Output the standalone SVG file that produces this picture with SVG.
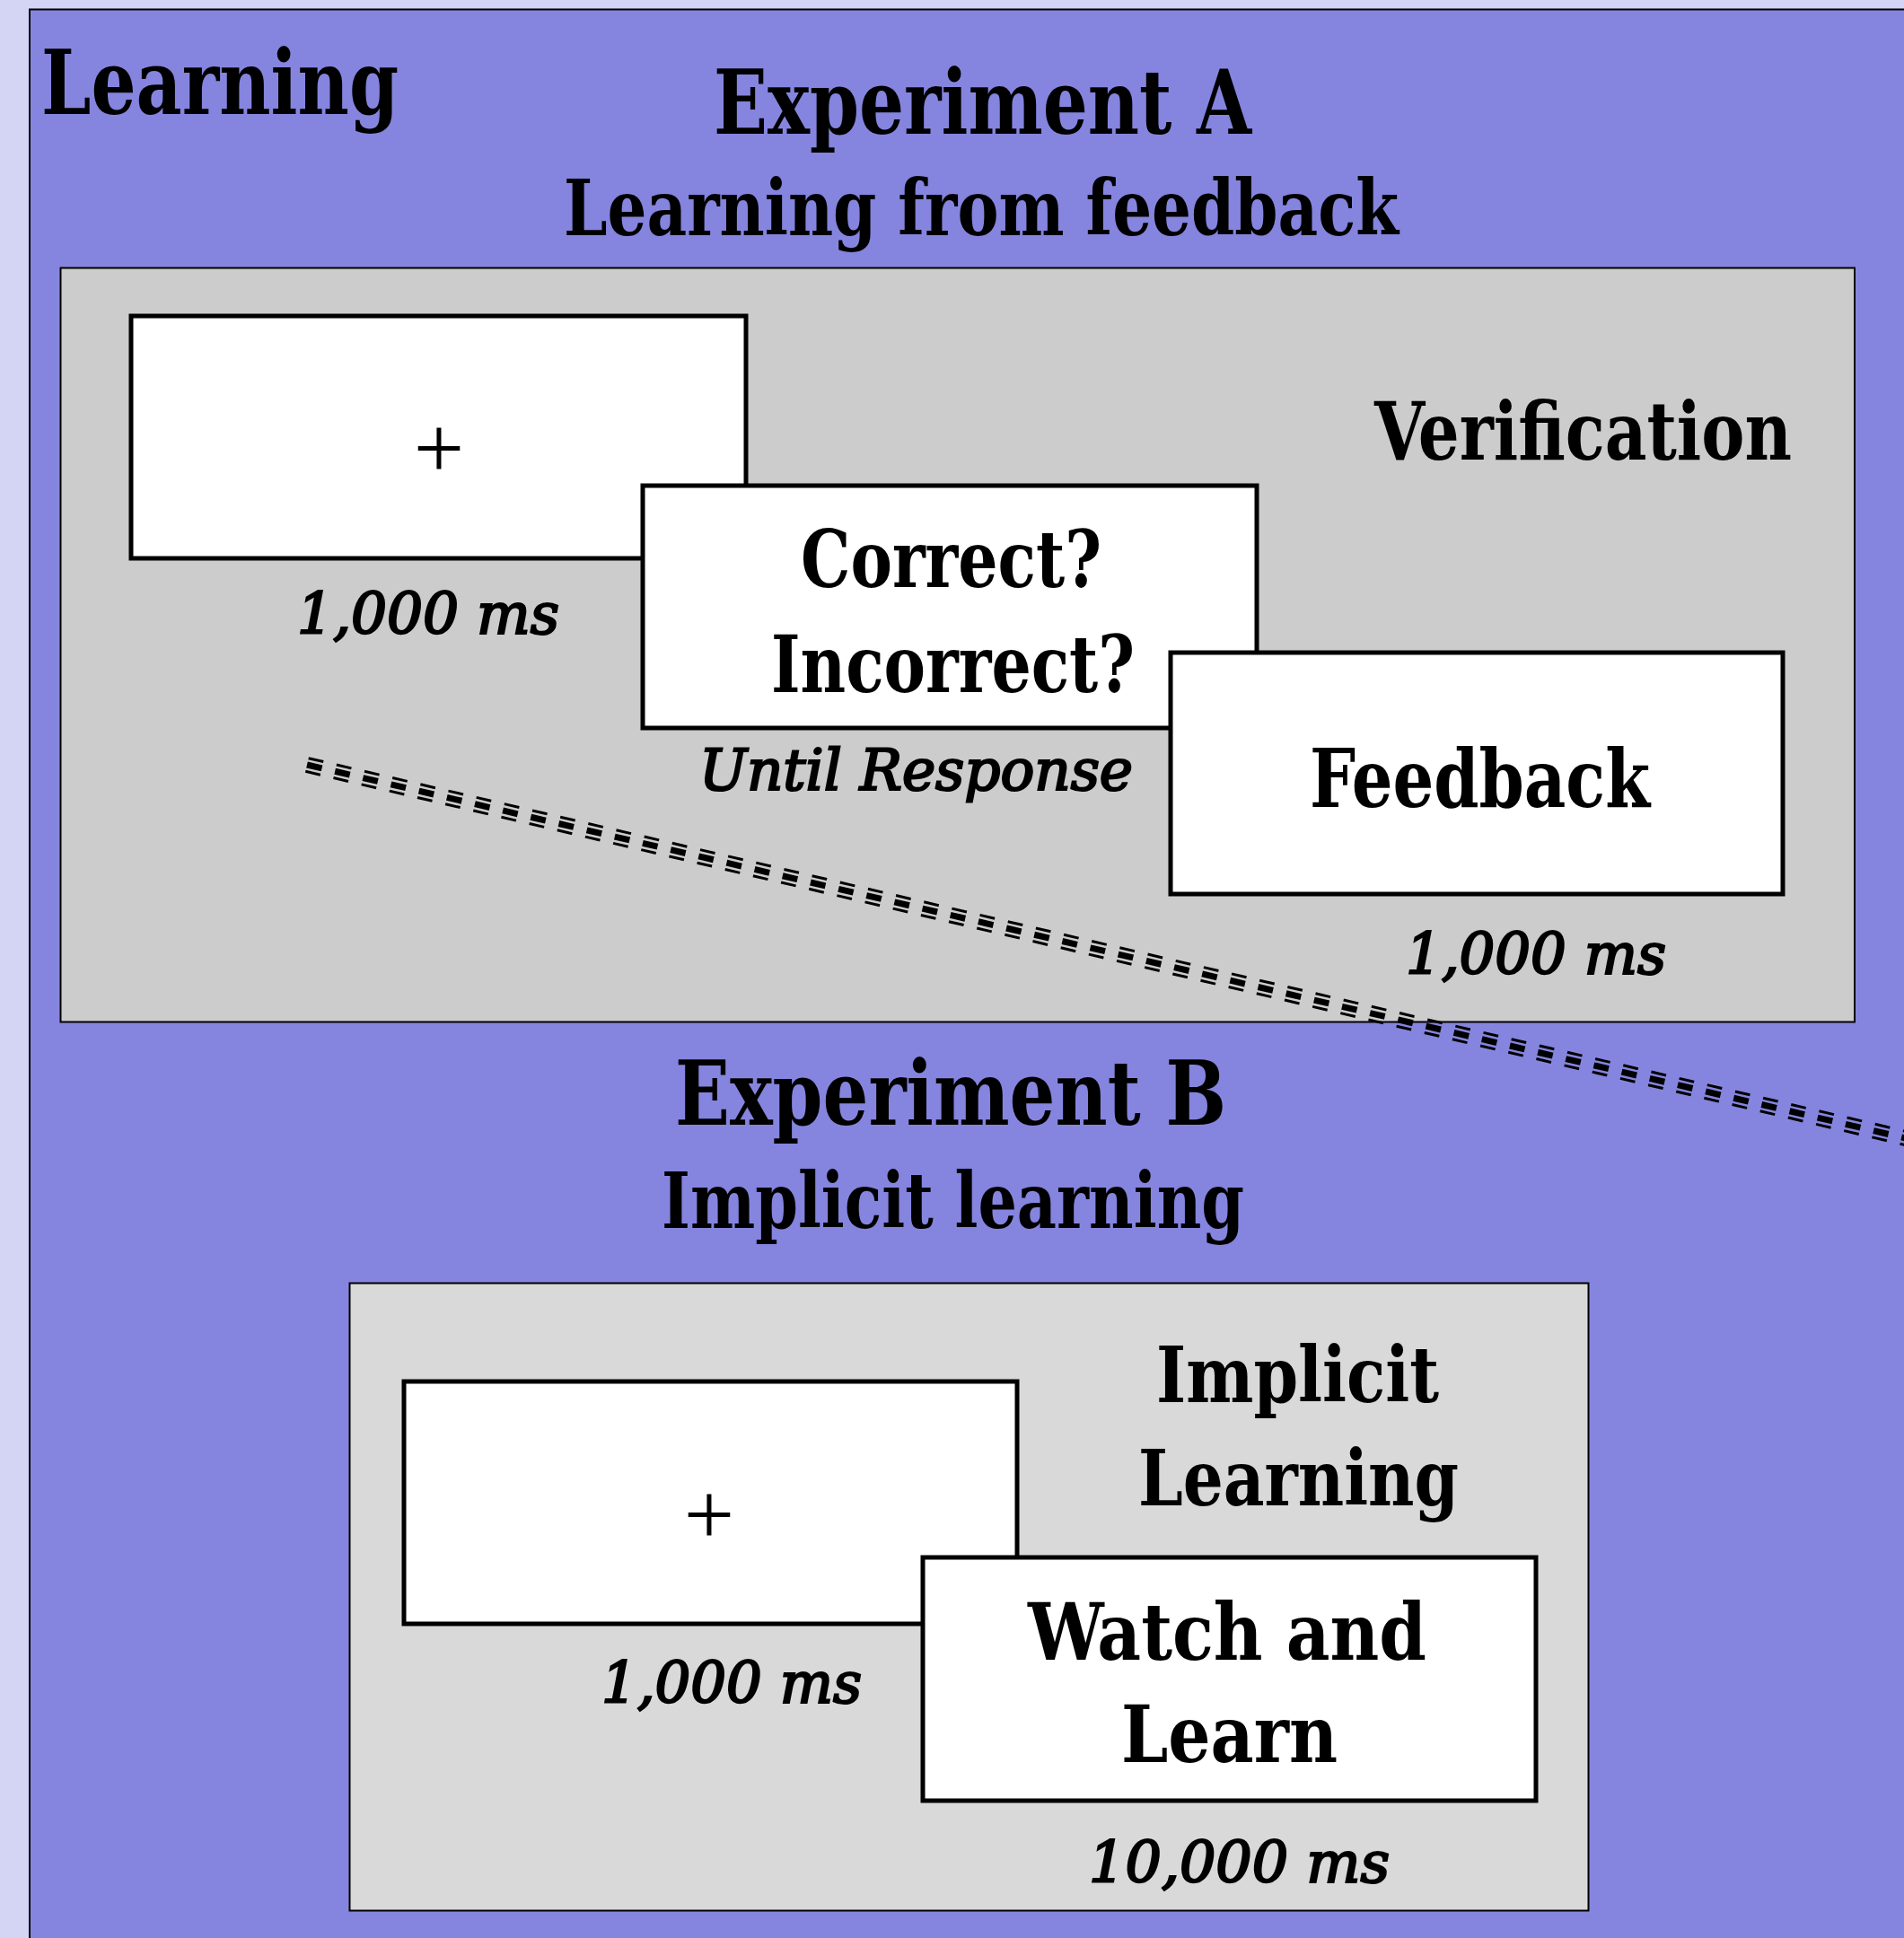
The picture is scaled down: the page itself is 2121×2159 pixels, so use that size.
<svg xmlns="http://www.w3.org/2000/svg" width="2121" height="2159" viewBox="0 0 2121 2159">
<style>
.t{font-family:"DejaVu Serif","Liberation Serif",serif;font-weight:bold;font-stretch:condensed;fill:#000}
.i{font-family:"DejaVu Serif","Liberation Serif",serif;font-style:italic;font-weight:normal;font-stretch:condensed;fill:#000;stroke:#000;stroke-width:2.2}
.p{font-family:"Liberation Serif",serif;font-weight:normal;fill:#000}
.panel{stroke:#000;stroke-width:2}
.box{fill:#fff;stroke:#000;stroke-width:5}
.dl{fill:none;stroke:#000;stroke-dasharray:17 15}
</style>
<rect x="0" y="0" width="2121" height="2159" fill="#d4d4f4"/>
<g id="frame">
<rect x="33" y="10.5" width="2200" height="2300" fill="#8585df" stroke="#000" stroke-width="2"/>
<text class="t" x="46" y="127" font-size="100" textLength="398" lengthAdjust="spacingAndGlyphs">Learning</text>
</g>
<g id="expA-title">
<text class="t" x="795" y="149" font-size="100" textLength="599" lengthAdjust="spacingAndGlyphs">Experiment A</text>
<text class="t" x="628" y="262" font-size="86" textLength="930" lengthAdjust="spacingAndGlyphs">Learning from feedback</text>
</g>
<g id="panelA">
<rect class="panel" x="67.5" y="298.5" width="1998.5" height="840" fill="#cccccc"/>
<text class="t" x="1531" y="512" font-size="90" textLength="465" lengthAdjust="spacingAndGlyphs">Verification</text>
</g>
<g id="fixationA">
<rect class="box" x="146" y="352" width="685" height="270"/>
<text class="p" x="489" y="533" font-size="100" text-anchor="middle">+</text>
<text class="i" x="331" y="706" font-size="63" textLength="292" lengthAdjust="spacingAndGlyphs">1,000 ms</text>
</g>
<g id="responseA">
<rect class="box" x="716" y="541" width="684" height="270"/>
<text class="t" x="892" y="654" font-size="87" textLength="335" lengthAdjust="spacingAndGlyphs">Correct?</text>
<text class="t" x="859" y="771" font-size="87" textLength="405" lengthAdjust="spacingAndGlyphs">Incorrect?</text>
<text class="i" x="779" y="880" font-size="63" textLength="483" lengthAdjust="spacingAndGlyphs">Until Response</text>
</g>
<g id="feedbackA">
<rect class="box" x="1304" y="727" width="682" height="269"/>
<text class="t" x="1459" y="899" font-size="89" textLength="379" lengthAdjust="spacingAndGlyphs">Feedback</text>
<text class="i" x="1566" y="1085" font-size="63" textLength="290" lengthAdjust="spacingAndGlyphs">1,000 ms</text>
</g>
<g id="expB-title">
<text class="t" x="752" y="1253" font-size="100" textLength="614" lengthAdjust="spacingAndGlyphs">Experiment B</text>
<text class="t" x="737" y="1368" font-size="86" textLength="649" lengthAdjust="spacingAndGlyphs">Implicit learning</text>
</g>
<g id="panelB">
<rect class="panel" x="389.5" y="1429.5" width="1380" height="699" fill="#d9d9d9"/>
<text class="t" x="1288" y="1562" font-size="86" textLength="315" lengthAdjust="spacingAndGlyphs">Implicit</text>
<text class="t" x="1268" y="1677" font-size="86" textLength="357" lengthAdjust="spacingAndGlyphs">Learning</text>
</g>
<g id="fixationB">
<rect class="box" x="450" y="1539" width="683" height="270"/>
<text class="p" x="790" y="1721" font-size="100" text-anchor="middle">+</text>
<text class="i" x="670" y="1897" font-size="63" textLength="290" lengthAdjust="spacingAndGlyphs">1,000 ms</text>
</g>
<g id="watchB">
<rect class="box" x="1028" y="1735" width="683" height="271"/>
<text class="t" x="1145" y="1849" font-size="88" textLength="444" lengthAdjust="spacingAndGlyphs">Watch and</text>
<text class="t" x="1249" y="1963" font-size="88" textLength="241" lengthAdjust="spacingAndGlyphs">Learn</text>
<text class="i" x="1213" y="2097" font-size="63" textLength="335" lengthAdjust="spacingAndGlyphs">10,000 ms</text>
</g>
<g id="connectors">
<line class="dl" x1="343.7" y1="844.7" x2="2201.7" y2="1278.7" stroke-width="3"/>
<line class="dl" x1="342" y1="852" x2="2200" y2="1286" stroke-width="7"/>
<line class="dl" x1="340.3" y1="859.3" x2="2198.3" y2="1293.3" stroke-width="3"/>
</g>
</svg>
